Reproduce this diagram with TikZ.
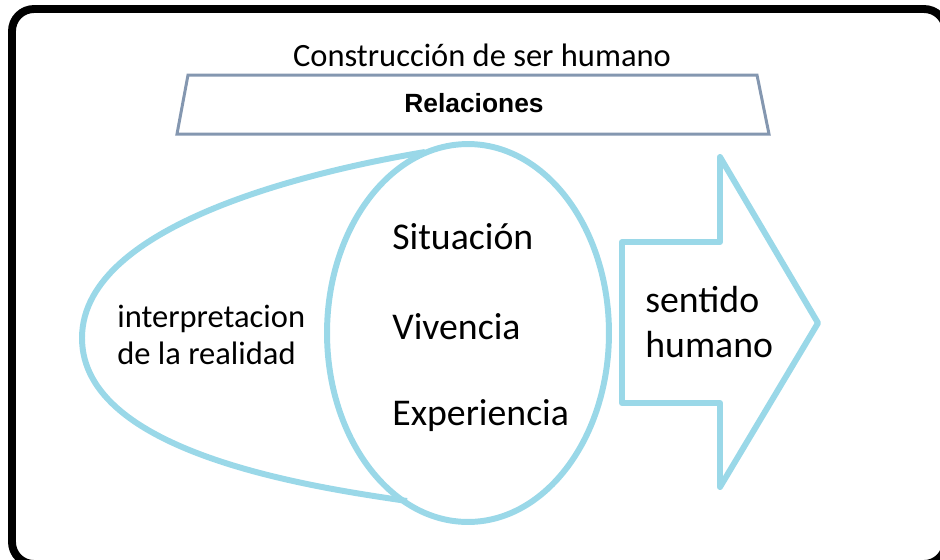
\documentclass[tikz,border=0pt]{standalone}
\usepackage{fontspec}
\setmainfont{Carlito}
\newfontfamily\arialfont{Liberation Sans}
\usepackage{xcolor}
\usetikzlibrary{
	shapes,
}
\definecolor{celeste}{HTML}{9AD8E8}
\definecolor{pizarra}{HTML}{8497B0}

\begin{document}
\begin{tikzpicture}[x=0.02cm,y=-0.02cm,
	contorno/.style={celeste, line width=3.4pt, line join=round},
	textogrande/.style={anchor=west, inner sep=0pt, font=\fontsize{21.5}{25.5}\selectfont},
	textomedio/.style={inner sep=0pt, font=\fontsize{18.5}{21.5}\selectfont}]
            \useasboundingbox (0,0) rectangle (940,559);
            \draw[line width=4.5pt, rounded corners=12.5pt] (12,9) rectangle (946,564);

            \node[textomedio] (titulo) at (482,55) {Construcción de ser humano};
            \draw[pizarra, line width=1.7pt] (188,75) -- (757,75) -- (769,134) -- (177,134) -- cycle;
            \node[font=\arialfont\bfseries\fontsize{15}{18}\selectfont] (relaciones) at (474,103) {Relaciones};

            \draw[contorno] (425,152) .. controls (330,168) and (82,220) .. (82,338)
                .. controls (82,455) and (320,488) .. (407,501);
            \draw[contorno] (468,333) ellipse [x radius=2.82cm, y radius=3.78cm];

            \node[textomedio, anchor=west, align=left] (interpretacion) at (117,335)
                {interpretacion\\de la realidad};
            \node[textogrande] (situacion) at (392,237) {Situación};
            \node[textogrande] (vivencia) at (392,327) {Vivencia};
            \node[textogrande] (experiencia) at (392,416) {Experiencia};

            \draw[contorno] (622,242) -- (720,242) -- (720,157) -- (818,323)
                -- (720,487) -- (720,403) -- (622,403) -- cycle;
            \node[textogrande, align=left] (sentido) at (645,322)
                {sentido\\humano};
\end{tikzpicture}
\end{document}
